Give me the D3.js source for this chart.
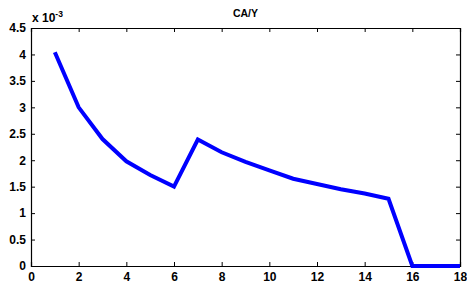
<!DOCTYPE html>
<html><head><meta charset="utf-8">
<script src="https://cdn.jsdelivr.net/npm/d3@7"></script>
<style>body{margin:0;background:#fff}svg{display:block}</style>
</head><body>
<script>
const xs = [1,2,3,4,5,6,7,8,9,10,11,12,13,14,15,16,17,18];
const ys = [4.04,3.0,2.4,1.98,1.72,1.5,2.39,2.15,1.97,1.81,1.65,1.55,1.45,1.37,1.27,0,0,0];
const xTicks = [0,2,4,6,8,10,12,14,16,18];
const yTicks = [0,0.5,1,1.5,2,2.5,3,3.5,4,4.5];
const title = "CA/Y";

const W=467,H=291, L=31,R=460,T=28,B=266;
const svg=d3.select("body").append("svg").attr("width",W).attr("height",H);
const x=d3.scaleLinear().domain([0,18]).range([L,R]);
const y=d3.scaleLinear().domain([0,4.5]).range([B,T]);
const font="Arial, 'Liberation Sans', sans-serif";

const g=svg.append("g");
const bx=g.append("g").attr("transform",`translate(0,${B})`)
  .call(d3.axisBottom(x).tickValues(xTicks).tickSize(-4).tickPadding(6).tickFormat(d3.format("d")));
const tx=g.append("g").attr("transform",`translate(0,${T})`)
  .call(d3.axisTop(x).tickValues(xTicks).tickSize(-4).tickFormat(""));
const ly=g.append("g").attr("transform",`translate(${L},0)`)
  .call(d3.axisLeft(y).tickValues(yTicks).tickSize(-4).tickPadding(5).tickFormat(d=>String(d)));
const ry=g.append("g").attr("transform",`translate(${R},0)`)
  .call(d3.axisRight(y).tickValues(yTicks).tickSize(-4).tickFormat(""));
[bx,tx,ly,ry].forEach(a=>{
  a.select(".domain").attr("stroke","#000").attr("stroke-width",1.2);
  a.selectAll(".tick line").attr("stroke","#000");
  a.selectAll("text").attr("font-family",font).attr("font-size",12).attr("font-weight","bold").attr("fill","#000");
});

svg.append("path").datum(xs.map((d,i)=>[d,ys[i]]))
  .attr("fill","none").attr("stroke","#0000ff").attr("stroke-width",4)
  .attr("stroke-linejoin","miter").attr("stroke-linecap","butt")
  .attr("d",d3.line().x(d=>x(d[0])).y(d=>y(d[1])));

svg.append("text").attr("x",(L+R)/2).attr("y",17).attr("text-anchor","middle")
  .attr("font-family",font).attr("font-size",10.5).attr("font-weight","bold").text(title);

const ex=svg.append("text").attr("x",L+1).attr("y",22)
  .attr("font-family",font).attr("font-size",12).attr("font-weight","bold");
ex.append("tspan").text("x 10");
ex.append("tspan").attr("font-size",8.5).attr("dy",-5).text("-3");
</script>
</body></html>
